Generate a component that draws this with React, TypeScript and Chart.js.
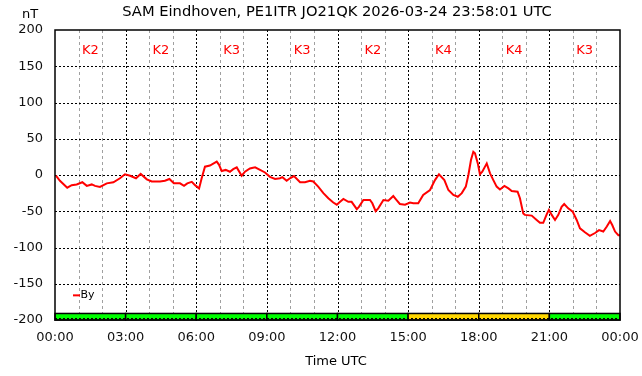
import React, { useEffect, useRef } from "react";
import { Chart, registerables } from "chart.js";

Chart.register(...registerables);

const TITLE = "SAM Eindhoven, PE1ITR JO21QK 2026-03-24 23:58:01 UTC";
const Y_UNIT = "nT";
const X_TITLE = "Time UTC";
const SERIES_NAME = "By";

// time in hours UTC
const hours = [
  0.04, 0.21, 0.52, 0.71, 0.92, 1.16, 1.35, 1.56, 1.7, 1.91, 2.2, 2.48, 2.76, 2.97,
  3.19, 3.44, 3.64, 3.9, 4.11, 4.46, 4.67, 4.86, 5.05, 5.31, 5.48, 5.62, 5.81, 5.95,
  6.12, 6.23, 6.37, 6.58, 6.87, 6.97, 7.08, 7.25, 7.43, 7.57, 7.72, 7.93, 8.07, 8.28,
  8.5, 8.71, 8.92, 9.13, 9.35, 9.56, 9.66, 9.84, 9.98, 10.15, 10.41, 10.62, 10.83,
  10.97, 11.18, 11.4, 11.61, 11.82, 11.97, 12.11, 12.25, 12.46, 12.6, 12.82, 12.91,
  13.1, 13.38, 13.48, 13.62, 13.73, 13.95, 14.16, 14.37, 14.51, 14.65, 14.87, 15.08,
  15.22, 15.43, 15.64, 15.93, 16.14, 16.31, 16.54, 16.71, 16.92, 17.11, 17.28, 17.45,
  17.56, 17.67, 17.77, 17.84, 17.96, 18.05, 18.15, 18.34, 18.48, 18.62, 18.76, 18.9,
  19.09, 19.26, 19.4, 19.65, 19.75, 19.89, 19.96, 20.25, 20.46, 20.6, 20.74, 20.89,
  20.98, 21.1, 21.24, 21.38, 21.52, 21.63, 21.8, 21.99, 22.16, 22.3, 22.51, 22.72,
  22.94, 23.11, 23.29, 23.44, 23.58, 23.67, 23.79, 23.93, 24.0,
];

// By component in nT
const byValues = [
  -1, -8, -17.5, -14, -13, -10, -15, -13, -15, -16.5, -11.5, -10, -4.5, 1,
  -1, -4.5, 1.5, -6, -9, -9, -8, -5.5, -11.5, -11.5, -15, -11.5, -9.5, -14,
  -18.5, -4.5, 11.5, 13, 18.5, 14, 5.5, 7, 4.5, 8, 10.5, -1, 4.5, 9,
  10.5, 7, 3.5, -2.5, -5.5, -4.5, -3, -8, -4.5, -1.5, -10, -10, -8,
  -9, -16, -25, -32, -38, -41, -37, -33, -37, -37, -47, -44,
  -34.5, -34.5, -39, -50, -46, -34.5, -35.5, -29, -34.5, -40, -41, -38,
  -39, -39, -27.5, -20.7, -7, 1, -7, -20.7, -27.5, -30, -25, -16,
  0, 20.7, 32, 30, 16, 1, 4.5, 16, 2.3, -7, -16, -20,
  -15, -18.5, -22, -23, -32, -53, -55, -56, -62, -66, -66, -54,
  -48, -55, -62, -55, -44, -40, -46, -50.5, -62, -73.5, -79, -84,
  -80, -76, -78, -71, -63.5, -69, -78, -83, -83,
];

// 3-hour K index blocks
const kStartHours = [0, 3, 6, 9, 12, 15, 18, 21];
const kIndex = [2, 2, 3, 3, 2, 4, 4, 3];

const Y_MIN = -200;
const Y_MAX = 200;
const Y_STEP = 50;
const X_MIN = 0;
const X_MAX = 24;

const FONT = "'DejaVu Sans', sans-serif";

function fmtHour(h: number): string {
  const hh = Math.round(h) % 24;
  return (hh < 10 ? "0" : "") + hh + ":00";
}

const decorPlugin = {
  id: "decor",
  beforeDatasetsDraw(chart: any) {
    const { ctx, chartArea: a } = chart;
    const xs = chart.scales.x;
    const ys = chart.scales.y;
    ctx.save();
    ctx.lineWidth = 1;
    // vertical grid
    for (let h = X_MIN + 1; h < X_MAX; h++) {
      const px = Math.round(xs.getPixelForValue(h)) + 0.5;
      ctx.beginPath();
      if (h % 3 === 0) {
        ctx.setLineDash([2, 2]);
        ctx.strokeStyle = "#000000";
      } else {
        ctx.setLineDash([3, 3]);
        ctx.strokeStyle = "#a0a0a0";
      }
      ctx.moveTo(px, a.top);
      ctx.lineTo(px, a.bottom);
      ctx.stroke();
    }
    // horizontal grid
    ctx.setLineDash([2, 2]);
    ctx.strokeStyle = "#000000";
    for (let v = Y_MIN + Y_STEP; v < Y_MAX; v += Y_STEP) {
      const py = Math.round(ys.getPixelForValue(v)) + 0.5;
      ctx.beginPath();
      ctx.moveTo(a.left, py);
      ctx.lineTo(a.right, py);
      ctx.stroke();
    }
    ctx.setLineDash([]);
    // K index bars
    const barTop = ys.getPixelForValue(-191);
    const barBot = ys.getPixelForValue(Y_MIN);
    kStartHours.forEach((s, i) => {
      const x0 = xs.getPixelForValue(s);
      const x1 = xs.getPixelForValue(s + 3);
      ctx.fillStyle = kIndex[i] >= 4 ? "#ffd700" : "#00ff00";
      ctx.fillRect(x0, barTop, x1 - x0, barBot - barTop);
      ctx.strokeStyle = "#000000";
      ctx.lineWidth = 1.5;
      ctx.strokeRect(x0, barTop, x1 - x0, barBot - barTop);
    });
    // dotted bottom line
    ctx.lineWidth = 1;
    ctx.setLineDash([2, 2]);
    ctx.strokeStyle = "#000000";
    ctx.beginPath();
    ctx.moveTo(a.left, Math.round(barBot) - 1.5);
    ctx.lineTo(a.right, Math.round(barBot) - 1.5);
    ctx.stroke();
    ctx.setLineDash([]);
    // K labels
    ctx.fillStyle = "#ff0000";
    ctx.font = "13px " + FONT;
    ctx.textAlign = "center";
    ctx.textBaseline = "middle";
    kStartHours.forEach((s, i) => {
      ctx.fillText("K" + kIndex[i], xs.getPixelForValue(s + 1.5), ys.getPixelForValue(172));
    });
    ctx.restore();
  },
  afterDraw(chart: any) {
    const { ctx, chartArea: a } = chart;
    ctx.save();
    // border
    ctx.strokeStyle = "#000000";
    ctx.lineWidth = 1.5;
    ctx.strokeRect(a.left, a.top, a.right - a.left, a.bottom - a.top);
    // texts
    ctx.fillStyle = "#000000";
    ctx.textBaseline = "middle";
    ctx.textAlign = "center";
    ctx.font = "14.7px " + FONT;
    ctx.fillText(TITLE, 337, 12);
    ctx.font = "13px " + FONT;
    ctx.fillText(Y_UNIT, 30, 15);
    ctx.fillText(X_TITLE, 336, 362);
    // legend
    const ly = chart.scales.y.getPixelForValue(-166);
    ctx.strokeStyle = "#ff0000";
    ctx.lineWidth = 2;
    ctx.beginPath();
    ctx.moveTo(73, ly);
    ctx.lineTo(80, ly);
    ctx.stroke();
    ctx.font = "11px " + FONT;
    ctx.textAlign = "left";
    ctx.fillStyle = "#000000";
    ctx.fillText(SERIES_NAME, 80.5, ly);
    ctx.restore();
  },
};

export default function App() {
  const ref = useRef<HTMLCanvasElement | null>(null);
  useEffect(() => {
    document.body.style.margin = "0";
    const canvas = ref.current;
    if (!canvas) return;
    const chart = new Chart(canvas, {
      type: "line",
      data: {
        datasets: [
          {
            label: SERIES_NAME,
            data: hours.map((h, i) => ({ x: h, y: byValues[i] })),
            borderColor: "#ff0000",
            borderWidth: 2,
            pointRadius: 0,
            tension: 0,
            fill: false,
          },
        ],
      },
      options: {
        animation: false,
        responsive: false,
        devicePixelRatio: 1,
        layout: { padding: { top: 30, right: 22, left: 0, bottom: 0 } },
        scales: {
          x: {
            type: "linear",
            min: X_MIN,
            max: X_MAX,
            grid: { display: false, drawTicks: false },
            border: { display: false },
            ticks: {
              stepSize: 1,
              autoSkip: false,
              maxRotation: 0,
              padding: 10,
              color: "#111111",
              font: { family: FONT, size: 13 },
              callback: (v: any) => (Number(v) % 3 === 0 ? fmtHour(Number(v)) : ""),
            },
            afterFit: (s: any) => {
              s.height = 56;
              s.paddingLeft = 0;
              s.paddingRight = 0;
            },
          },
          y: {
            min: Y_MIN,
            max: Y_MAX,
            grid: { display: false, drawTicks: false },
            border: { display: false },
            ticks: {
              stepSize: Y_STEP,
              padding: 12,
              color: "#111111",
              font: { family: FONT, size: 13 },
            },
            afterFit: (s: any) => {
              s.width = 55;
              s.paddingTop = 0;
              s.paddingBottom = 0;
            },
          },
        },
        plugins: {
          legend: { display: false },
          tooltip: { enabled: false },
          title: { display: false },
        },
      },
      plugins: [decorPlugin],
    });
    return () => chart.destroy();
  }, []);
  return (
    <div style={{ position: "absolute", left: 0, top: 0, width: 642, height: 376, background: "#fff" }}>
      <canvas ref={ref} width={642} height={376} style={{ width: 642, height: 376 }} />
    </div>
  );
}
